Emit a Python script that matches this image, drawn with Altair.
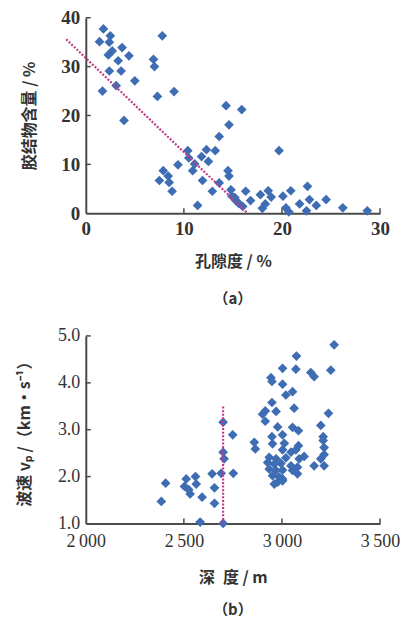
import altair as alt
import pandas as pd

# (a) porosity (%) vs. cement content (%)
porosity = [1.8, 2.5, 7.8, 1.4, 2.4, 3.7, 2.7, 4.4, 2.3, 3.3, 6.9, 7.0, 2.4, 3.6, 5.0,
            3.1, 1.7, 7.3, 9.0, 14.3, 15.9, 3.9, 14.6, 13.6, 19.7, 10.4, 12.3, 13.2, 11.8,
            10.5, 12.5, 9.4, 11.1, 7.9, 10.9, 14.5, 8.4, 14.6, 7.5, 8.5, 11.9, 13.6, 8.8,
            12.9, 14.8, 14.9, 15.3, 11.4, 16.3, 16.8, 17.8, 18.6, 18.9, 18.3, 18.0, 20.1,
            20.9, 22.6, 20.4, 20.7, 21.8, 22.8, 23.5, 24.5, 22.5, 26.2, 28.7, 15.6, 16.0, 15.2]
cement = [37.7, 36.3, 36.3, 35.1, 35.0, 33.9, 33.2, 32.2, 32.4, 31.2, 31.5, 30.0, 29.1, 29.1, 27.1,
          26.1, 25.0, 23.9, 24.9, 22.0, 21.2, 19.0, 18.1, 15.7, 12.8, 12.8, 13.0, 12.8, 11.6,
          11.3, 10.6, 9.9, 10.1, 8.7, 8.7, 8.7, 7.6, 7.6, 6.7, 6.3, 6.7, 6.2, 4.5,
          4.5, 4.8, 3.5, 2.6, 1.6, 4.5, 2.6, 3.8, 4.6, 3.3, 1.9, 1.0, 3.5,
          4.6, 5.5, 1.1, 0.3, 1.9, 2.8, 1.6, 2.8, 0.5, 1.1, 0.5, 2.0, 1.4, 3.2]
trend_x = [-2.0, 16.5]
trend_y = [35.6, 0.0]

# (b) depth (m) vs. P-wave velocity (km/s)
depth = [2700, 2749, 2700, 2705, 2644, 2690, 2752, 2407, 2512, 2559, 2503, 2563, 2532, 2525,
         2656, 2385, 2593, 2656, 2583, 2700,
         3266, 3074, 3003, 3071, 3249, 3147, 3164, 2944, 2949, 3003, 3054, 3020, 2949, 3062,
         2915, 2970, 2901, 3237, 2915, 2978, 3198, 3054, 3084, 2949, 3003, 3210, 3210, 2859,
         2864, 2952, 3012, 3084, 3003, 3046, 3071, 3215, 3215, 2935, 2970, 3020, 3088, 3113,
         3198, 3164, 3215, 2927, 2961, 2995, 3046, 3079, 2935, 2970, 3003, 3054, 3079, 2952,
         2986, 2978, 3003, 2961, 3003]
velocity = [3.16, 2.89, 2.52, 2.38, 2.06, 2.07, 2.07, 1.86, 1.95, 2.00, 1.79, 1.84, 1.63, 1.72,
            1.76, 1.47, 1.56, 1.43, 1.03, 1.00,
            4.81, 4.57, 4.31, 4.29, 4.27, 4.22, 4.13, 4.11, 4.03, 3.97, 3.81, 3.74, 3.58, 3.46,
            3.40, 3.39, 3.33, 3.35, 3.18, 3.06, 3.09, 3.05, 2.98, 2.85, 2.89, 2.85, 2.77, 2.73,
            2.59, 2.70, 2.71, 2.66, 2.57, 2.52, 2.57, 2.62, 2.47, 2.41, 2.38, 2.40, 2.38, 2.43,
            2.38, 2.23, 2.23, 2.30, 2.27, 2.28, 2.23, 2.20, 2.16, 2.13, 2.14, 2.13, 2.06, 2.02,
            1.99, 1.88, 1.95, 1.84, 1.91]
cutoff_depth = [2700, 2700]
cutoff_v = [1.0, 3.5]

a_xticks = [0, 10, 20, 30]
a_yticks = [0, 10, 20, 30, 40]
b_xticks = [2000, 2500, 3000, 3500]
b_yticks = [1.0, 2.0, 3.0, 4.0, 5.0]

W = 295
HA = 196
HB = 188
BLUE = "#3E6DB4"
PINK = "#C23A86"
AXIS_C = "#4a4a4a"
CJK = "Noto Sans CJK SC"
SERIF = "Liberation Serif"


def inner_ticks(xname, yname, xvals, yvals, xscale, yscale, h):
    # short tick marks drawn on the inside of the axis lines
    tx = alt.Chart(pd.DataFrame({xname: xvals})).mark_rule(color=AXIS_C, strokeWidth=1.5).encode(
        x=alt.X(f"{xname}:Q", scale=xscale),
        y=alt.value(h), y2=alt.value(h - 5))
    ty = alt.Chart(pd.DataFrame({yname: yvals})).mark_rule(color=AXIS_C, strokeWidth=1.5).encode(
        y=alt.Y(f"{yname}:Q", scale=yscale),
        x=alt.value(0), x2=alt.value(5))
    return tx, ty


# ---- panel (a)
xs_a = alt.Scale(domain=[0, 30], nice=False)
ys_a = alt.Scale(domain=[0, 40], nice=False)
df_a = pd.DataFrame({"porosity": porosity, "cement": cement})
pts_a = alt.Chart(df_a).mark_point(shape="diamond", filled=True, size=95, color=BLUE, opacity=1).encode(
    x=alt.X("porosity:Q", scale=xs_a, title="孔隙度 / %",
            axis=alt.Axis(values=a_xticks, labelFont=SERIF, labelFontWeight="bold", labelFlush=False,
                          labelFontSize=19, labelPadding=6, titleY=48, titleBaseline="middle")),
    y=alt.Y("cement:Q", scale=ys_a, title="胶结物含量 / %",
            axis=alt.Axis(values=a_yticks, labelFont=SERIF, labelFontWeight="bold",
                          labelFontSize=19, labelPadding=6, titleX=-56, titleY=HA / 2,
                          titleBaseline="middle")),
)
trend = alt.Chart(pd.DataFrame({"porosity": trend_x, "cement": trend_y})).mark_line(
    color=PINK, strokeWidth=2.2, strokeDash=[2, 1.6], clip=False).encode(
    x=alt.X("porosity:Q", scale=xs_a, title="孔隙度 / %"),
    y=alt.Y("cement:Q", scale=ys_a, title="胶结物含量 / %"))
tx_a, ty_a = inner_ticks("porosity", "cement", a_xticks[1:], a_yticks[1:], xs_a, ys_a, HA)
panel_a = alt.layer(pts_a, trend, tx_a, ty_a).properties(
    width=W, height=HA,
    title=alt.TitleParams("（a）", orient="bottom", font=CJK, fontSize=15, fontWeight="bold",
                          color="#333", offset=23))

# ---- panel (b)
xs_b = alt.Scale(domain=[2000, 3500], nice=False)
ys_b = alt.Scale(domain=[1, 5], nice=False)
df_b = pd.DataFrame({"depth": depth, "velocity": velocity})
pts_b = alt.Chart(df_b).mark_point(shape="diamond", filled=True, size=95, color=BLUE, opacity=1).encode(
    x=alt.X("depth:Q", scale=xs_b, title="深\u2002度 / m",
            axis=alt.Axis(values=b_xticks, format="d", labelFlush=False,
                          labelExpr="substring(datum.label, 0, 1) + '\u2009' + substring(datum.label, 1)",
                          labelFont=SERIF, labelFontSize=18, labelPadding=9,
                          titleY=54, titleBaseline="middle")),
    y=alt.Y("velocity:Q", scale=ys_b, title="波速 vₚ /（km·s⁻¹）",
            axis=alt.Axis(values=b_yticks, format=".1f",
                          labelFont=SERIF, labelFontSize=18, labelPadding=6,
                          titleX=-61, titleY=HB / 2, titleBaseline="middle")),
)
cutoff = alt.Chart(pd.DataFrame({"depth": cutoff_depth, "velocity": cutoff_v})).mark_line(
    color=PINK, strokeWidth=2.2, strokeDash=[2, 1.6]).encode(
    x=alt.X("depth:Q", scale=xs_b, title="深\u2002度 / m"),
    y=alt.Y("velocity:Q", scale=ys_b, title="波速 vₚ /（km·s⁻¹）"))
tx_b, ty_b = inner_ticks("depth", "velocity", b_xticks[1:], b_yticks[1:], xs_b, ys_b, HB)
panel_b = alt.layer(pts_b, cutoff, tx_b, ty_b).properties(
    width=W, height=HB,
    title=alt.TitleParams("（b）", orient="bottom", font=CJK, fontSize=15, fontWeight="bold",
                          color="#333", offset=18))

chart = alt.vconcat(panel_a, panel_b, spacing=20).properties(
    padding={"left": 16, "top": 8, "right": 0, "bottom": 2}
).configure_view(stroke=None).configure_axis(
    domainColor=AXIS_C, domainWidth=2, ticks=False, grid=False,
    labelColor="#333", titleFont=CJK, titleFontSize=16, titleFontWeight="bold", titleColor="#333"
)

chart.save("out.html", embed_options={"renderer": "svg", "actions": False})
